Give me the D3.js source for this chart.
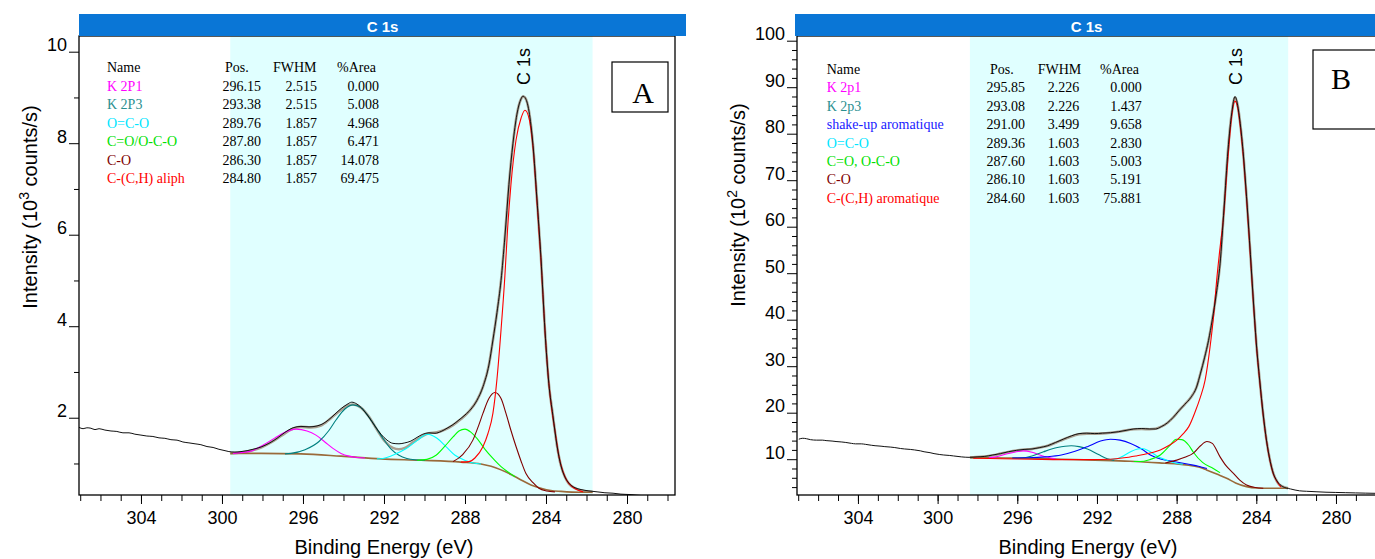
<!DOCTYPE html>
<html><head><meta charset="utf-8">
<script src="https://cdn.jsdelivr.net/npm/d3@7"></script>
<style>body{margin:0;background:#fff}svg{display:block}</style>
</head><body><svg id="c" width="1375" height="559"></svg>
<script>
// ---------------- DATA ----------------
const energyLabels = [304, 300, 296, 292, 288, 284, 280];
const tableHeader = ["Name", "Pos.", "FWHM", "%Area"];

// Panel A table
const A_names = ["K 2P1", "K 2P3", "O=C-O", "C=O/O-C-O", "C-O", "C-(C,H) aliph"];
const A_pos   = [296.15, 293.38, 289.76, 287.80, 286.30, 284.80];
const A_fwhm  = [2.515, 2.515, 1.857, 1.857, 1.857, 1.857];
const A_area  = [0.000, 5.008, 4.968, 6.471, 14.078, 69.475];
const A_yTicks = [2, 4, 6, 8, 10];
const A_yMinor = [1, 3, 5, 7, 9];

// Panel B table
const B_names = ["K 2p1", "K 2p3", "shake-up aromatique", "O=C-O", "C=O, O-C-O", "C-O", "C-(C,H) aromatique"];
const B_pos   = [295.85, 293.08, 291.00, 289.36, 287.60, 286.10, 284.60];
const B_fwhm  = [2.226, 2.226, 3.499, 1.603, 1.603, 1.603, 1.603];
const B_area  = [0.000, 1.437, 9.658, 2.830, 5.003, 5.191, 75.881];
const B_yTicks = [10, 20, 30, 40, 50, 60, 70, 80, 90, 100];
const B_yMinor = [4, 6, 8, 12, 14, 16, 18, 22, 24, 26, 28, 32, 34, 36, 38, 42, 44, 46, 48, 52, 54, 56, 58, 62, 64, 66, 68, 72, 74, 76, 78, 82, 84, 86, 88, 92, 94, 96, 98];

// Panel A curves  [binding energy eV (as read on the axis), intensity 10^3 counts/s]
const A_raw = [[307.06,1.79],[306.86,1.76],[306.67,1.78],[306.47,1.77],[306.27,1.74],[306.07,1.76],[305.78,1.73],[305.48,1.71],[305.19,1.70],[304.89,1.67],[304.59,1.67],[304.30,1.64],[304.00,1.62],[303.71,1.60],[303.41,1.59],[303.11,1.56],[302.82,1.55],[302.52,1.52],[302.22,1.51],[301.93,1.47],[301.63,1.45],[301.33,1.43],[301.04,1.41],[300.74,1.37],[300.44,1.35],[300.15,1.31],[299.85,1.28],[299.66,1.26],[299.36,1.25],[299.06,1.26],[298.76,1.28],[298.47,1.31],[298.07,1.36],[297.68,1.44],[297.28,1.55],[296.89,1.68],[296.49,1.78],[296.10,1.81],[295.70,1.80],[295.31,1.82],[295.01,1.87],[294.72,1.96],[294.42,2.08],[294.12,2.20],[293.83,2.29],[293.59,2.34],[293.34,2.30],[293.04,2.18],[292.74,2.01],[292.45,1.82],[292.15,1.64],[291.85,1.51],[291.56,1.44],[291.26,1.43],[290.97,1.45],[290.67,1.49],[290.37,1.57],[290.08,1.64],[289.78,1.67],[289.48,1.66],[289.18,1.70],[288.89,1.77],[288.59,1.85],[288.30,1.95],[288.00,2.06],[287.70,2.19],[287.41,2.38],[287.11,2.68],[286.82,3.15],[286.62,3.70],[286.42,4.30],[286.22,5.00],[286.03,5.95],[285.83,7.10],[285.63,8.00],[285.44,8.62],[285.23,8.97],[285.14,9.03],[285.04,9.00],[284.84,8.70],[284.64,7.95],[284.45,6.80],[284.25,5.50],[284.05,3.90],[283.86,2.75],[283.66,2.05],[283.46,1.40],[283.26,0.95],[283.06,0.70],[282.87,0.57],[282.57,0.47],[282.27,0.43],[281.88,0.40],[281.48,0.38],[281.09,0.36],[280.69,0.35],[280.30,0.33],[279.80,0.32],[279.31,0.30],[278.81,0.30],[278.32,0.28],[277.82,0.28],[277.63,0.27]];
const A_envelope = [[299.59,1.22],[299.06,1.24],[298.57,1.28],[298.07,1.35],[297.58,1.46],[297.09,1.60],[296.59,1.74],[296.10,1.80],[295.61,1.79],[295.11,1.83],[294.62,1.99],[294.12,2.17],[293.73,2.28],[293.53,2.29],[293.13,2.22],[292.74,2.02],[292.35,1.74],[291.95,1.48],[291.56,1.34],[291.26,1.31],[290.97,1.34],[290.57,1.46],[290.17,1.58],[289.78,1.66],[289.38,1.68],[288.99,1.74],[288.59,1.84],[288.20,1.97],[287.80,2.14],[287.41,2.38],[287.11,2.68],[286.82,3.15],[286.62,3.70],[286.42,4.30],[286.22,5.00],[286.03,5.95],[285.83,7.10],[285.63,8.00],[285.44,8.62],[285.23,8.97],[285.14,9.02],[285.04,9.00],[284.84,8.70],[284.64,7.95],[284.45,6.80],[284.25,5.50],[284.05,3.90],[283.86,2.75],[283.66,2.05],[283.46,1.40],[283.26,0.95],[283.06,0.70],[282.87,0.56],[282.57,0.46],[282.27,0.41],[281.98,0.39],[281.70,0.38]];
const A_background = [[299.59,1.22],[298.07,1.22],[296.10,1.21],[294.12,1.16],[292.15,1.10],[290.17,1.07],[288.20,1.03],[287.21,0.99],[286.71,0.94],[286.22,0.86],[285.73,0.76],[285.23,0.64],[284.74,0.53],[284.25,0.46],[283.76,0.41],[283.26,0.39],[282.27,0.37],[281.70,0.37]];
const A_K2P1 = [[299.46,1.22],[298.57,1.27],[297.98,1.40],[297.38,1.56],[296.99,1.66],[296.35,1.75],[295.80,1.71],[295.36,1.62],[294.92,1.47],[294.52,1.33],[294.12,1.22],[293.73,1.16],[293.33,1.13],[292.94,1.12]];
const A_K2P3 = [[296.89,1.21],[296.59,1.22],[295.90,1.30],[295.21,1.48],[294.72,1.72],[294.37,1.95],[293.93,2.19],[293.53,2.28],[293.13,2.22],[292.89,2.10],[292.45,1.82],[292.05,1.55],[291.66,1.32],[291.26,1.18],[290.87,1.11],[290.47,1.08],[289.98,1.07]];
const A_OCO = [[292.35,1.10],[292.05,1.11],[291.46,1.20],[290.92,1.32],[290.37,1.50],[289.85,1.64],[289.38,1.55],[288.94,1.37],[288.49,1.18],[287.95,1.06],[287.60,1.01],[287.21,0.99]];
const A_CO_OCO = [[290.37,1.07],[289.88,1.09],[289.43,1.18],[288.99,1.38],[288.59,1.58],[288.30,1.71],[288.00,1.75],[287.70,1.68],[287.41,1.55],[287.01,1.31],[286.62,1.11],[286.22,0.93],[285.83,0.80],[285.53,0.71]];
const A_CO = [[288.59,1.04],[288.10,1.20],[287.61,1.51],[287.31,1.85],[287.11,2.10],[286.82,2.42],[286.52,2.55],[286.22,2.42],[285.98,2.10],[285.73,1.72],[285.48,1.37],[285.23,1.05],[284.99,0.78],[284.64,0.58],[284.35,0.46],[283.96,0.40],[283.56,0.38]];
const A_CC = [[288.20,1.03],[287.80,1.04],[287.51,1.12],[287.11,1.37],[286.87,1.65],[286.62,2.10],[286.42,2.85],[286.22,3.92],[286.03,5.10],[285.90,6.10],[285.73,7.10],[285.48,8.07],[285.23,8.55],[285.04,8.72],[284.84,8.55],[284.64,7.90],[284.45,6.75],[284.25,5.45],[284.05,3.90],[283.86,2.75],[283.66,2.00],[283.56,1.73],[283.36,1.15],[283.16,0.82],[282.96,0.62],[282.67,0.48],[282.37,0.41],[282.17,0.38]];

// Panel B curves [binding energy eV (as read on the axis), intensity 10^2 counts/s]
const B_raw = [[306.97,14.3],[306.77,14.5],[306.58,14.4],[306.38,14.2],[306.09,14.1],[305.79,14.1],[305.60,14.0],[305.30,13.9],[305.10,13.8],[304.81,13.7],[304.61,13.6],[304.32,13.4],[304.12,13.3],[303.83,13.3],[303.63,13.2],[303.33,13.0],[303.14,12.9],[302.84,12.8],[302.65,12.7],[302.35,12.6],[302.15,12.5],[301.86,12.3],[301.66,12.2],[301.37,12.1],[301.17,12.0],[300.87,11.8],[300.68,11.6],[300.38,11.4],[300.18,11.2],[299.89,11.0],[299.69,10.9],[299.39,10.8],[299.20,10.7],[298.81,10.5],[298.42,10.4],[298.02,10.5],[297.63,10.6],[297.23,10.9],[296.84,11.2],[296.45,11.6],[296.05,11.9],[295.66,12.1],[295.26,12.2],[294.87,12.5],[294.47,12.9],[294.08,13.6],[293.69,14.3],[293.29,15.0],[292.90,15.5],[292.51,15.6],[292.11,15.5],[291.72,15.6],[291.32,15.7],[290.93,15.9],[290.54,16.2],[290.15,16.5],[289.75,16.6],[289.36,16.5],[289.06,16.5],[288.77,17.0],[288.47,17.8],[288.17,19.0],[287.89,20.4],[287.59,21.8],[287.30,23.2],[287.00,25.5],[286.80,28.5],[286.60,31.8],[286.40,35.5],[286.21,40.0],[286.01,45.5],[285.82,52.0],[285.62,64.0],[285.42,76.5],[285.23,84.5],[285.07,88.0],[284.93,86.0],[284.83,83.0],[284.64,75.0],[284.49,66.5],[284.34,57.0],[284.16,44.9],[284.00,35.0],[283.83,27.0],[283.65,19.5],[283.49,14.1],[283.30,9.5],[283.15,7.0],[282.96,5.3],[282.67,4.1],[282.28,3.6],[281.83,3.2],[281.48,3.1],[281.00,3.0],[280.50,2.9],[280.01,2.85],[279.51,2.8],[279.02,2.75],[278.53,2.7],[277.89,2.65]];
const B_envelope = [[298.38,10.35],[297.83,10.5],[297.23,10.85],[296.84,11.2],[296.45,11.55],[296.05,11.85],[295.66,12.05],[295.26,12.2],[294.87,12.5],[294.47,12.9],[294.08,13.55],[293.69,14.25],[293.29,14.9],[292.90,15.35],[292.51,15.5],[292.11,15.5],[291.72,15.55],[291.32,15.7],[290.93,15.9],[290.54,16.2],[290.15,16.45],[289.75,16.5],[289.36,16.45],[289.06,16.55],[288.77,17.0],[288.47,17.8],[288.17,19.0],[287.89,20.4],[287.59,21.8],[287.30,23.2],[287.00,25.5],[286.80,28.5],[286.60,31.8],[286.40,35.5],[286.21,40.0],[286.01,45.5],[285.82,52.0],[285.62,64.0],[285.42,76.5],[285.23,84.5],[285.07,87.8],[284.93,86.0],[284.83,83.0],[284.64,75.0],[284.49,66.5],[284.34,57.0],[284.16,44.9],[284.00,35.0],[283.83,27.0],[283.65,19.5],[283.49,14.1],[283.30,9.5],[283.15,7.0],[282.96,5.2],[282.86,4.6],[282.67,4.1],[282.40,3.75]];
const B_background = [[298.38,10.35],[297.23,10.3],[295.46,10.2],[293.79,10.0],[292.11,9.8],[290.34,9.55],[289.66,9.4],[288.87,9.2],[287.99,9.0],[287.39,8.7],[286.90,8.3],[286.50,7.7],[285.92,6.7],[285.49,5.9],[285.04,4.9],[284.49,4.1],[283.95,3.8],[283.45,3.75],[282.40,3.75]];
const B_K2p1 = [[297.43,10.3],[297.14,10.45],[296.55,11.1],[296.05,11.6],[295.73,11.8],[295.26,11.5],[294.87,10.9],[294.47,10.4],[294.08,10.1]];
const B_K2p3 = [[296.25,10.2],[295.82,10.25],[295.26,10.7],[294.68,11.6],[293.99,12.5],[293.29,12.9],[292.90,12.7],[292.48,12.2],[291.92,11.0],[291.48,10.1],[291.13,9.75]];
const B_shakeup = [[296.25,10.25],[295.46,10.3],[294.58,10.5],[293.79,10.9],[293.10,11.7],[292.48,12.7],[291.82,13.9],[291.32,14.3],[290.84,14.1],[290.31,13.4],[289.76,12.2],[289.32,10.9],[288.77,10.0],[288.15,9.5],[287.39,8.9],[286.90,8.5],[286.48,8.0]];
const B_OCO = [[291.52,9.95],[290.99,10.1],[290.64,10.8],[290.31,11.6],[289.96,12.2],[289.74,12.3],[289.36,11.7],[288.99,10.7],[288.57,9.9],[288.17,9.3],[287.69,8.9]];
const B_CO_OCO = [[290.15,9.5],[289.86,9.5],[289.36,9.9],[288.82,10.9],[288.37,12.8],[288.02,14.3],[287.74,14.2],[287.39,13.0],[287.16,11.5],[286.70,9.3],[286.16,8.0],[285.82,7.1]];
const B_CO = [[288.57,9.2],[287.99,9.8],[287.59,10.4],[287.16,11.3],[286.80,12.9],[286.48,13.8],[286.21,13.4],[285.82,10.5],[285.52,8.6],[285.16,7.0],[284.83,5.5],[284.49,4.45],[284.05,3.9],[283.65,3.75]];
const B_CC = [[298.21,10.2],[296.75,10.1],[295.26,10.0],[293.79,9.9],[292.31,9.9],[291.32,10.0],[290.64,10.3],[290.05,10.7],[289.66,11.0],[289.17,11.5],[288.82,12.0],[288.37,13.0],[287.99,14.1],[287.69,15.4],[287.39,17.0],[287.07,20.2],[286.82,23.2],[286.57,27.0],[286.32,34.2],[286.13,41.4],[285.99,48.5],[285.82,55.5],[285.66,61.4],[285.42,75.0],[285.23,84.0],[285.07,87.0],[284.93,85.5],[284.83,82.5],[284.64,74.5],[284.49,66.0],[284.34,56.5],[284.16,44.5],[284.00,34.7],[283.83,26.8],[283.65,19.3],[283.49,14.0],[283.30,9.4],[283.15,6.9],[282.96,5.2],[282.76,4.0]];

// ---------------- STYLE ----------------
const COL = {magenta:"#ff00ff", teal:"#008080", cyan:"#00ffff", green:"#00ff00", dred:"#800000", red:"#ff0000", blue:"#0000ff"};
const svg = d3.select("#c");
const SANS = "'Liberation Sans', Arial, sans-serif";
const SERIF = "'Liberation Serif', 'Times New Roman', serif";

function panel(o) {
  const x = d3.scaleLinear().domain(o.xDom).range([o.left, o.right]);
  const y = d3.scaleLinear().domain(o.yDom).range([o.bottom, o.top]);
  const g = svg.append("g");
  const clipId = "clip" + o.id;
  svg.append("clipPath").attr("id", clipId).append("rect")
    .attr("x", o.left).attr("y", o.top).attr("width", o.right - o.left).attr("height", o.bottom - o.top);
  const pg = g.append("g").attr("clip-path", `url(#${clipId})`);
  pg.append("rect").attr("x", x(o.shade[0])).attr("width", x(o.shade[1]) - x(o.shade[0]))
    .attr("y", o.top).attr("height", o.bottom - o.top).attr("fill", "#e0ffff");

  const line = d3.line().x(d => x(d[0])).y(d => y(d[1])).curve(d3.curveMonotoneX);

  pg.append("path").attr("d", line(o.envelope)).attr("fill", "none").attr("stroke", "#aa9f90").attr("stroke-width", 2.6);
  pg.append("path").attr("d", line(o.background)).attr("fill", "none").attr("stroke", "#9a6a3a").attr("stroke-width", 1.6);
  o.comps.forEach(c => {
    pg.append("path").attr("d", line(c.pts)).attr("fill", "none").attr("stroke", c.color).attr("stroke-width", 1.1);
  });
  pg.append("path").attr("d", line(o.raw)).attr("fill", "none").attr("stroke", "#111").attr("stroke-width", 1);

  // frame
  g.append("rect").attr("x", o.left).attr("y", o.top).attr("width", o.right - o.left).attr("height", o.bottom - o.top)
    .attr("fill", "none").attr("stroke", "#000").attr("stroke-width", 1.3);

  // title bar
  g.append("rect").attr("x", o.barX[0]).attr("y", 14).attr("width", o.barX[1] - o.barX[0]).attr("height", 22).attr("fill", "#0a76d6");
  g.append("text").attr("x", (o.barX[0] + o.barX[1]) / 2).attr("y", 32).attr("text-anchor", "middle")
    .attr("fill", "#fff").attr("font-family", SANS).attr("font-weight", "bold").attr("font-size", 15).text("C 1s");

  // x axis
  const minor = d3.range(Math.ceil(Math.min(...o.xDom)), Math.floor(Math.max(...o.xDom)) + 1);
  const ax1 = g.append("g").attr("transform", `translate(0,${o.bottom})`)
    .call(d3.axisBottom(x).tickValues(minor).tickSize(6).tickFormat(""));
  const ax2 = g.append("g").attr("transform", `translate(0,${o.bottom})`)
    .call(d3.axisBottom(x).tickValues(energyLabels).tickSize(9).tickPadding(7).tickFormat(d3.format("d")));
  [ax1, ax2].forEach(a => { a.select(".domain").remove(); a.selectAll("line").attr("stroke", "#000"); });
  ax2.selectAll("text").attr("font-family", SANS).attr("font-size", 18).attr("fill", "#000");
  g.append("text").attr("x", o.xTitleX).attr("y", 554).attr("text-anchor", "middle")
    .attr("font-family", SANS).attr("font-size", 20).text("Binding Energy (eV)");

  // y axis
  const ay1 = g.append("g").attr("transform", `translate(${o.left},0)`)
    .call(d3.axisLeft(y).tickValues(o.yMinor).tickSize(5).tickFormat(""));
  const ay2 = g.append("g").attr("transform", `translate(${o.left},0)`)
    .call(d3.axisLeft(y).tickValues(o.yTicks).tickSize(10).tickPadding(2).tickFormat(d3.format("d")));
  [ay1, ay2].forEach(a => { a.select(".domain").remove(); a.selectAll("line").attr("stroke", "#000"); });
  ay2.selectAll("text").attr("font-family", SANS).attr("font-size", 18).attr("fill", "#000").attr("dy", "-0.05em");

  const yt = g.append("text").attr("transform", `translate(${o.yTitleX},${o.yTitleY}) rotate(-90)`)
    .attr("text-anchor", "middle").attr("font-family", SANS).attr("font-size", 20);
  yt.append("tspan").text("Intensity (10");
  yt.append("tspan").attr("font-size", 14).attr("dy", -8).text(o.exp);
  yt.append("tspan").attr("dy", 8).text(" counts/s)");

  // peak label
  g.append("text").attr("transform", `translate(${x(o.peakE) + 7},${o.peakLabelY}) rotate(-90)`)
    .attr("font-family", SANS).attr("font-size", 18).text("C 1s");

  // table
  const t = g.append("g").attr("font-family", SERIF).attr("font-size", 14);
  const cols = o.tableCols;
  t.append("text").attr("x", cols.name).attr("y", o.tableY).text(tableHeader[0]);
  t.append("text").attr("x", cols.posH).attr("y", o.tableY).text(tableHeader[1]);
  t.append("text").attr("x", cols.fwhmH).attr("y", o.tableY).text(tableHeader[2]);
  t.append("text").attr("x", cols.areaH).attr("y", o.tableY).text(tableHeader[3]);
  o.names.forEach((n, i) => {
    const yy = o.tableY + (i + 1) * o.rowH;
    t.append("text").attr("x", cols.name).attr("y", yy).attr("fill", o.nameColors[i]).text(n);
    t.append("text").attr("x", cols.pos).attr("y", yy).attr("text-anchor", "end").text(o.pos[i].toFixed(2));
    t.append("text").attr("x", cols.fwhm).attr("y", yy).attr("text-anchor", "end").text(o.fwhm[i].toFixed(3));
    t.append("text").attr("x", cols.area).attr("y", yy).attr("text-anchor", "end").text(o.area[i].toFixed(3));
  });

  // letter box
  g.append("rect").attr("x", o.box[0]).attr("y", o.box[1]).attr("width", o.box[2]).attr("height", o.box[3])
    .attr("fill", "#fff").attr("stroke", "#000").attr("stroke-width", 1.2);
  g.append("text").attr("x", o.letterPos[0]).attr("y", o.letterPos[1]).attr("text-anchor", "middle")
    .attr("font-family", SERIF).attr("font-size", 30).text(o.letter);
}

panel({
  id: "A", left: 79, right: 675, top: 36, bottom: 495, xTitleX: 384,
  xDom: [307.06, 277.63], yDom: [0.311, 10.343], shade: [299.59, 281.70],
  barX: [79, 686], exp: "3", yTitleX: 37, yTitleY: 207,
  raw: A_raw, envelope: A_envelope, background: A_background,
  comps: [
    {pts: A_K2P1, color: COL.magenta}, {pts: A_K2P3, color: COL.teal}, {pts: A_OCO, color: COL.cyan},
    {pts: A_CO_OCO, color: COL.green}, {pts: A_CO, color: COL.dred}, {pts: A_CC, color: COL.red}
  ],
  yTicks: A_yTicks, yMinor: A_yMinor, peakE: 285.14, peakLabelY: 85,
  names: A_names, pos: A_pos, fwhm: A_fwhm, area: A_area,
  nameColors: [COL.magenta, "#2a8f8f", "#00e5ff", "#00e000", COL.dred, COL.red],
  tableY: 72, rowH: 18.5,
  tableCols: {name: 107, posH: 225, fwhmH: 273, areaH: 337, pos: 261, fwhm: 317, area: 379},
  box: [612, 62, 56, 50], letterPos: [643, 103], letter: "A"
});

panel({
  id: "B", left: 797, right: 1378, top: 36, bottom: 495, xTitleX: 1088,
  xDom: [307.06, 277.89], yDom: [2.3, 101.01], shade: [298.38, 282.40],
  barX: [795, 1378], exp: "2", yTitleX: 745, yTitleY: 205,
  raw: B_raw, envelope: B_envelope, background: B_background,
  comps: [
    {pts: B_K2p1, color: COL.magenta}, {pts: B_K2p3, color: COL.teal}, {pts: B_shakeup, color: COL.blue},
    {pts: B_OCO, color: COL.cyan}, {pts: B_CO_OCO, color: COL.green}, {pts: B_CO, color: COL.dred}, {pts: B_CC, color: COL.red}
  ],
  yTicks: B_yTicks, yMinor: B_yMinor, peakE: 285.07, peakLabelY: 85,
  names: B_names, pos: B_pos, fwhm: B_fwhm, area: B_area,
  nameColors: [COL.magenta, "#2a8f8f", "#2020ff", "#00e5ff", "#00e000", COL.dred, COL.red],
  tableY: 74, rowH: 18.4,
  tableCols: {name: 826.7, posH: 990, fwhmH: 1037.7, areaH: 1100, pos: 1025, fwhm: 1079.3, area: 1141.7},
  box: [1313, 50, 80, 79], letterPos: [1341, 89], letter: "B"
});
</script></body></html>
